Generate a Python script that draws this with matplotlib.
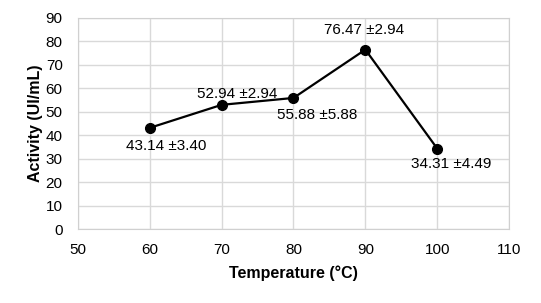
import matplotlib.pyplot as plt

plt.rcParams['font.family'] = ['Liberation Sans', 'DejaVu Sans']

temperature = [60, 70, 80, 90, 100]
activity = [43.14, 52.94, 55.88, 76.47, 34.31]
errors = [3.40, 2.94, 5.88, 2.94, 4.49]
# label offsets in points (dx, dy)
offsets = [(12, -13), (11, 8), (17, -12), (-1, 14), (10, -11)]

fig = plt.figure(figsize=(5.41, 3.03), dpi=100)
ax = fig.add_axes([0.144, 0.244, 0.797, 0.697])

ax.plot(temperature, activity, color='black', lw=1.6, marker='o', ms=7, zorder=3)
for x, y, e, (dx, dy) in zip(temperature, activity, errors, offsets):
    ax.annotate(f'{y:.2f} \u00b1{e:.2f}', (x, y), xytext=(dx, dy),
                textcoords='offset points', ha='center', va='center', fontsize=11)

ax.set_xlim(50, 110)
ax.set_ylim(0, 90)
ax.set_xticks(range(50, 111, 10))
ax.set_yticks(range(0, 91, 10))
ax.grid(True, color='#d9d9d9', lw=1)
ax.set_axisbelow(True)
for s in ax.spines.values():
    s.set_color('#d0d0d0')
ax.tick_params(length=0, labelsize=11)
ax.tick_params(axis='y', pad=11)
ax.tick_params(axis='x', pad=10)
ax.set_xlabel('Temperature (°C)', fontsize=11.5, fontweight='bold', labelpad=6)
ax.set_ylabel('Activity (UI/mL)', fontsize=11.5, fontweight='bold', labelpad=2)

fig.savefig('out.png', dpi=100)
